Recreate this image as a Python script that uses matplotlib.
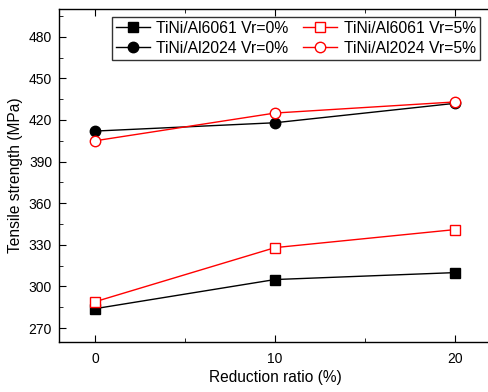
import numpy as np
import matplotlib.pyplot as plt

plt.rcParams['font.family'] = ['Liberation Sans', 'DejaVu Sans']

ratio = [0, 10, 20]
al6061_0 = [284, 305, 310]
al6061_5 = [289, 328, 341]
al2024_0 = [412, 418, 432]
al2024_5 = [405, 425, 433]

fig = plt.figure(figsize=(4.88, 3.92), dpi=100)
ax = fig.add_axes([0.121, 0.1276, 0.885, 0.8495])

ax.plot(ratio, al6061_0, '-s', color='black', mfc='black', ms=6.5, lw=1, label='TiNi/Al6061 Vr=0%')
ax.plot(ratio, al2024_0, '-o', color='black', mfc='black', ms=7.5, lw=1, label='TiNi/Al2024 Vr=0%')
ax.plot(ratio, al6061_5, '-s', color='red', mfc='white', ms=6.5, lw=1, label='TiNi/Al6061 Vr=5%')
ax.plot(ratio, al2024_5, '-o', color='red', mfc='white', ms=7.5, lw=1, label='TiNi/Al2024 Vr=5%')

ax.set_xlim(-2, 22)
ax.set_ylim(260, 500)
ax.set_xticks([0, 10, 20])
ax.set_xticks([5, 15], minor=True)
ax.set_yticks(np.arange(270, 481, 30))
ax.set_yticks(np.arange(285, 500, 30), minor=True)
ax.tick_params(which='both', direction='in', top=True, right=False, labelsize=10)
ax.tick_params(which='major', length=5)
ax.tick_params(which='minor', length=3)
ax.tick_params(axis='x', pad=7)
ax.tick_params(axis='y', pad=5)
for s in ax.spines.values():
    s.set_linewidth(1)

ax.set_xlabel('Reduction ratio (%)', fontsize=11.2, labelpad=3)
ax.set_ylabel('Tensile strength (MPa)', fontsize=11.2)

leg = ax.legend(ncol=2, loc='upper left', bbox_to_anchor=(0.122, 0.976), fontsize=11.3,
                frameon=True, fancybox=False, edgecolor='black', handlelength=2.2,
                columnspacing=0.9, handletextpad=0.4, borderpad=0.25, labelspacing=0.3,
                borderaxespad=0)
leg.get_frame().set_linewidth(1)

fig.savefig('out.png', dpi=100)
